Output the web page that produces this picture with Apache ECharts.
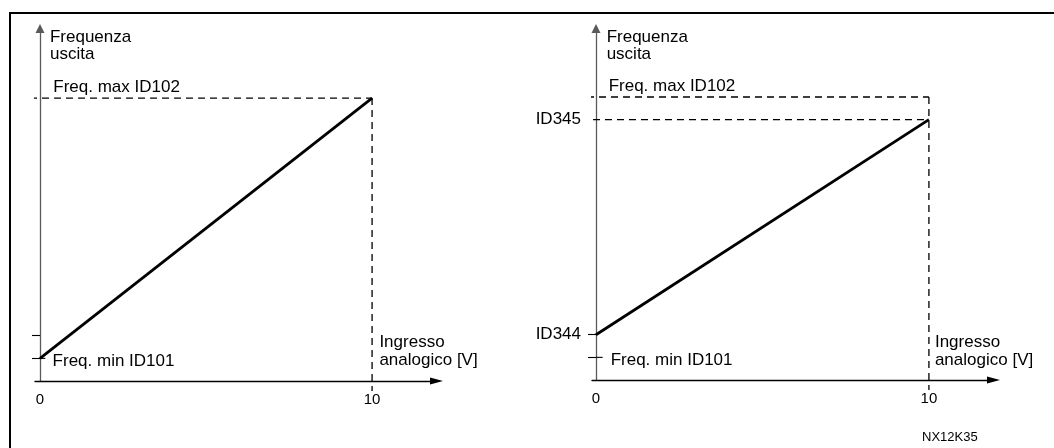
<!DOCTYPE html>
<html>
<head>
<meta charset="utf-8">
<script src="https://cdn.jsdelivr.net/npm/echarts@6/dist/echarts.min.js"></script>
<style>
html,body{margin:0;padding:0;background:#fff;}
#chart{width:1054px;height:448px;}
</style>
</head>
<body>
<div id="chart"></div>
<script>
// ---- data ----
const inputRange = [0, 10];            // analog input [V]
const freqMin = 8;                     // Freq. min ID101 (relative level)
const freqMax = 100;                   // Freq. max ID102
const id344 = 16;                      // ID344
const id345 = 92;                      // ID345
const leftOutput = [freqMin, freqMax]; // output at input 0 and 10
const rightOutput = [id344, id345];
const xTickLabels = [0, 10];
const rightYLabelValues = [id344, id345];
const rightYLabelTexts = ['ID344', 'ID345'];
const yAxisTitle = 'Frequenza\nuscita';
const xAxisTitle = 'Ingresso\nanalogico [V]';
const maxLabel = 'Freq. max ID102';
const minLabel = 'Freq. min ID101';
const figureId = 'NX12K35';

const FONT = "'Liberation Sans', Arial, sans-serif";
const chart = echarts.init(document.getElementById('chart'), null, {renderer: 'canvas'});

function xAxisCfg(gi, min, max) {
  return {
    type: 'value', gridIndex: gi, min: min, max: max,
    splitLine: {show: false},
    axisLine: {show: true, onZero: true, symbol: ['none', 'triangle'], symbolSize: [7, 13],
      lineStyle: {color: '#000', width: 1.3}},
    axisTick: {show: false},
    axisLabel: {show: true, customValues: xTickLabels, fontSize: 15, color: '#000',
      fontFamily: FONT, margin: 11}
  };
}
function yAxisCfg(gi, max, labelVals) {
  return {
    type: 'value', gridIndex: gi, min: 0, max: max,
    splitLine: {show: false},
    axisLine: {show: true, onZero: true, symbol: ['none', 'triangle'], symbolSize: [9, 9],
      lineStyle: {color: '#5a5a5a', width: 1.3}},
    axisTick: {show: true, customValues: [freqMin, id344], length: 8,
      lineStyle: {color: '#000', width: 1.1}},
    axisLabel: labelVals ? {
      show: true, customValues: labelVals, fontSize: 17, color: '#000', fontFamily: FONT, margin: 11,
      formatter: function (v) { const i = rightYLabelValues.indexOf(v); return i >= 0 ? rightYLabelTexts[i] : ''; }
    } : {show: false}
  };
}
function seg(gi, pts, opts) {
  return Object.assign({
    type: 'line', xAxisIndex: gi, yAxisIndex: gi, data: pts, symbol: 'none',
    clip: false, silent: true, animation: false,
    lineStyle: {color: '#000', width: 1.3, type: [7, 5]}
  }, opts || {});
}
function textPt(gi, x, y, txt, lh) {
  return {
    type: 'scatter', xAxisIndex: gi, yAxisIndex: gi, silent: true, animation: false,
    symbolSize: 0, itemStyle: {color: '#000'}, clip: false,
    data: [[x, y]],
    label: {show: true, position: 'right', distance: 0, formatter: txt, color: '#000', opacity: 1,
      fontSize: 17, fontFamily: FONT, lineHeight: lh || 17, align: 'left', textBorderWidth: 0}
  };
}

const series = [];
// left panel
series.push(seg(0, [[inputRange[0], leftOutput[0]], [inputRange[1], leftOutput[1]]],
  {lineStyle: {color: '#000', width: 2.8, type: 'solid'}, z: 5}));
series.push(seg(0, [[-0.3, freqMax], [inputRange[1], freqMax]]));
series.push(seg(0, [[inputRange[1], freqMax], [inputRange[1], -3.5]]));
series.push(seg(0, [[0, freqMin], [0.16, freqMin]], {lineStyle: {color: '#000', width: 1.1, type: 'solid'}}));
series.push(textPt(0, 0.3, 118.4, yAxisTitle, 17));
series.push(textPt(0, 0.4, 103.9, maxLabel));
series.push(textPt(0, 0.38, 7.1, minLabel));
series.push(textPt(0, 10.22, 10.6, xAxisTitle, 18));
// right panel
series.push(seg(1, [[inputRange[0], rightOutput[0]], [inputRange[1], rightOutput[1]]],
  {lineStyle: {color: '#000', width: 2.8, type: 'solid'}, z: 5}));
series.push(seg(1, [[-0.27, freqMax], [inputRange[1], freqMax]]));
series.push(seg(1, [[-0.09, id345], [inputRange[1], id345]]));
series.push(seg(1, [[inputRange[1], freqMax], [inputRange[1], -3.5]]));
series.push(seg(1, [[0, freqMin], [0.2, freqMin]], {lineStyle: {color: '#000', width: 1.1, type: 'solid'}}));
series.push(textPt(1, 0.32, 118.2, yAxisTitle, 17));
series.push(textPt(1, 0.38, 103.8, maxLabel));
series.push(textPt(1, 0.44, 6.9, minLabel));
series.push(textPt(1, 10.18, 10.2, xAxisTitle, 18));

chart.setOption({
  animation: false,
  backgroundColor: '#fff',
  title: {text: figureId, left: 917, top: 426,
    textStyle: {fontSize: 13, fontWeight: 'normal', color: '#000', fontFamily: FONT}},
  graphic: [{type: 'rect', shape: {x: 10, y: 13, width: 1100, height: 500}, silent: true,
    style: {fill: 'none', stroke: '#000', lineWidth: 2}, z: 100}],
  grid: [
    {left: 35, right: 617.5, top: 28.5, bottom: 67},
    {left: 592, right: 60.5, top: 28.5, bottom: 68}
  ],
  xAxis: [xAxisCfg(0, -0.15, 11.94), xAxisCfg(1, -0.12, 11.94)],
  yAxis: [yAxisCfg(0, 124.6, null), yAxisCfg(1, 124.2, rightYLabelValues)],
  series: series
});
</script>
</body>
</html>
